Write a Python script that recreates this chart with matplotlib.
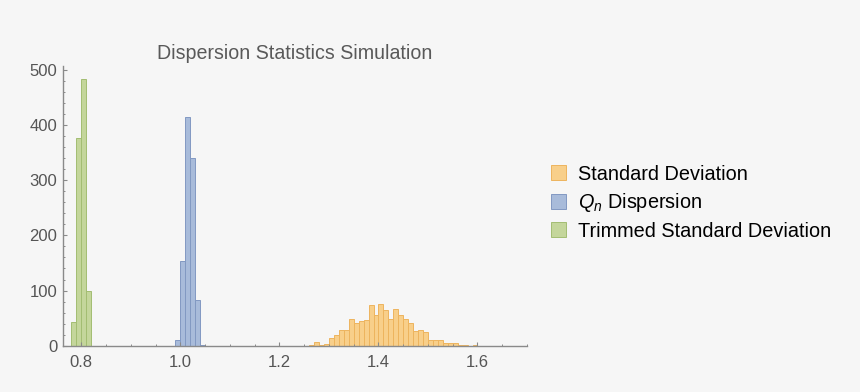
"""Dispersion statistics simulation: three histograms on one axis."""
import matplotlib
matplotlib.use("Agg")
import matplotlib.pyplot as plt
from matplotlib.ticker import MultipleLocator

plt.rcParams["font.family"] = ["Liberation Sans", "DejaVu Sans"]
plt.rcParams["mathtext.fontset"] = "custom"
plt.rcParams["mathtext.rm"] = "Liberation Sans"
plt.rcParams["mathtext.it"] = "Liberation Sans:italic"

BIN = 0.01

# counts per 0.01-wide bin
sd_start = 1.26
sd_counts = [2, 7, 2, 3, 14, 20, 29, 29, 49, 42, 45, 47, 73, 56, 76, 65,
             49, 67, 55, 49, 42, 27, 29, 25, 11, 11, 11, 4, 4, 4, 1, 2, 0, 1]
qn_start = 0.99
qn_counts = [11, 154, 415, 340, 82, 2]
tsd_start = 0.78
tsd_counts = [43, 377, 483, 100]

SERIES = [
    ("Standard Deviation", sd_start, sd_counts, "#F8CF8A", "#EDB45E"),
    ("$Q_n$ Dispersion", qn_start, qn_counts, "#A8BBDA", "#8299C2"),
    ("Trimmed Standard Deviation", tsd_start, tsd_counts, "#C4D69B", "#A3BD72"),
]

BG = "#F6F6F6"
AXC = "#8A8A8A"

fig = plt.figure(figsize=(8.6, 3.92), dpi=100, facecolor=BG)
ax = fig.add_axes([0.0733, 0.1181, 0.5395, 0.7135], facecolor=BG)

handles = []
for label, start, counts, face, edge in SERIES:
    lefts = [round(start + i * BIN, 2) for i in range(len(counts))]
    h = ax.bar(lefts, counts, width=BIN, align="edge", color=face,
               edgecolor=edge, linewidth=0.7, label=label)
    handles.append(h)

ax.set_xlim(0.763, 1.70)
ax.set_ylim(0, 507)
ax.xaxis.set_major_locator(MultipleLocator(0.2))
ax.xaxis.set_minor_locator(MultipleLocator(0.05))
ax.yaxis.set_major_locator(MultipleLocator(100))
ax.yaxis.set_minor_locator(MultipleLocator(20))
ax.xaxis.set_major_formatter(lambda v, p: f"{v:.1f}")

for s in ("top", "right"):
    ax.spines[s].set_visible(False)
for s in ("left", "bottom"):
    ax.spines[s].set_color(AXC)
    ax.spines[s].set_linewidth(1.0)
ax.tick_params(which="both", direction="in", color=AXC, labelcolor="#555555",
               labelsize=12)
ax.tick_params(which="major", length=3, width=0.8)
ax.tick_params(which="minor", length=1.6, width=0.7)
ax.tick_params(axis="x", pad=6.5)
ax.tick_params(axis="y", pad=4)

ax.set_title("Dispersion Statistics Simulation", fontsize=14.1, color="#595959",
             pad=5)

ax.legend(handles=handles, loc="center left",
          bbox_to_anchor=(0.6403, 0.4829), bbox_transform=fig.transFigure,
          frameon=False, fontsize=14.3, handlelength=0.76, handleheight=0.76,
          handletextpad=0.6, labelspacing=0.38, borderpad=0, borderaxespad=0)

fig.savefig("out.png", dpi=100, facecolor=BG)
